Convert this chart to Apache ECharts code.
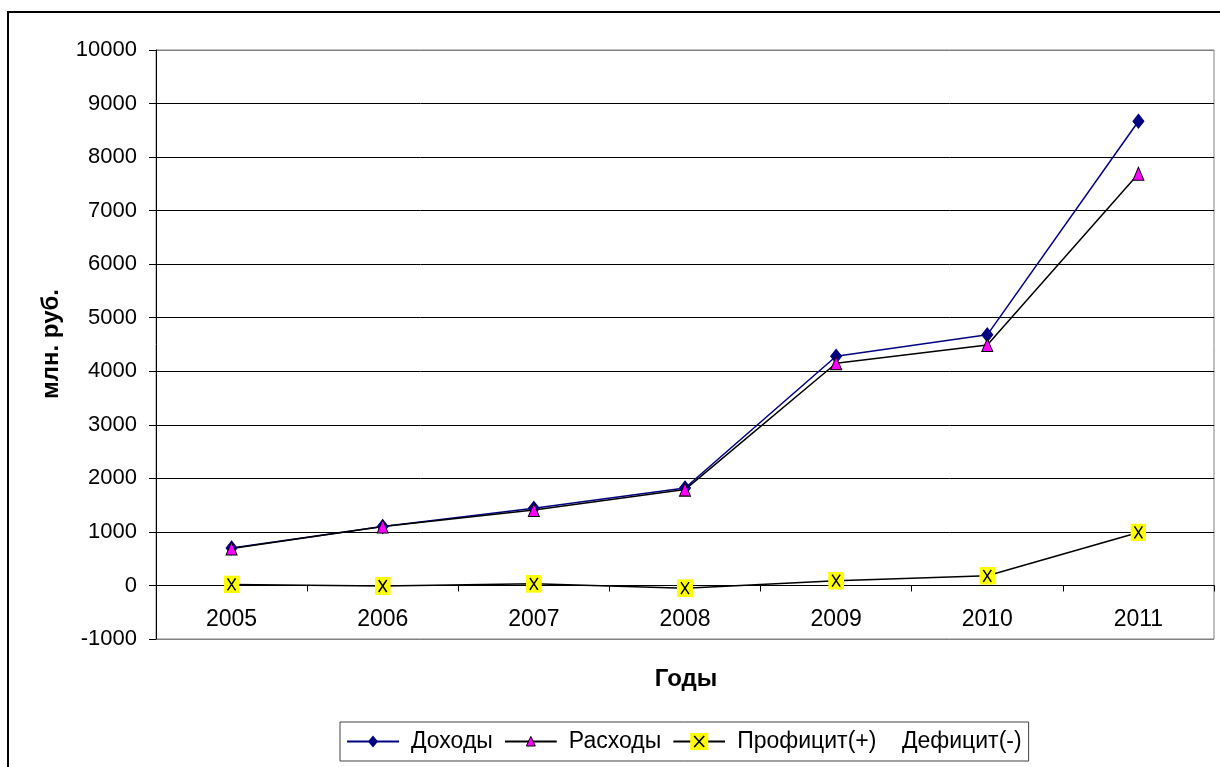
<!DOCTYPE html>
<html>
<head>
<meta charset="utf-8">
<script src="https://cdn.jsdelivr.net/npm/echarts@6/dist/echarts.min.js"></script>
<style>
html,body{margin:0;padding:0;background:#fff;}
#chart{width:1220px;height:767px;}
</style>
</head>
<body>
<div id="chart"></div>
<script>
const years = ['2005','2006','2007','2008','2009','2010','2011'];
const dohody = [700, 1100, 1440, 1820, 4280, 4680, 8670];
const rashody = [690, 1100, 1410, 1790, 4150, 4490, 7690];
const proficit = [20, -10, 30, -50, 90, 180, 990];
const seriesNames = ['Доходы', 'Расходы', 'Профицит(+)    Дефицит(-)'];
const yTitle = 'млн. руб.';
const xTitle = 'Годы';

const font = '"Liberation Sans", Arial, sans-serif';
function svgUrl(s) { return 'image://data:image/svg+xml;charset=utf-8,' + encodeURIComponent(s); }
const xSymbol = svgUrl('<svg xmlns="http://www.w3.org/2000/svg" width="16" height="18" viewBox="0 0 16 18">' +
  '<rect x="0" y="0" width="16" height="18" fill="#FFFF00"/>' +
  '<path d="M4,3 L12,15 M12,3 L4,15" stroke="#000" stroke-width="1.5" fill="none"/></svg>');
const legIcon1 = svgUrl('<svg xmlns="http://www.w3.org/2000/svg" width="52" height="20" viewBox="0 0 52 20">' +
  '<line x1="0" y1="10" x2="52" y2="10" stroke="#000080" stroke-width="2"/>' +
  '<polygon points="26,4 31,10 26,16 21,10" fill="#000080"/></svg>');
const legIcon2 = svgUrl('<svg xmlns="http://www.w3.org/2000/svg" width="52" height="20" viewBox="0 0 52 20">' +
  '<line x1="0" y1="10" x2="52" y2="10" stroke="#000" stroke-width="2"/>' +
  '<polygon points="26,5 30.5,14.5 21.5,14.5" fill="#FF00FF" stroke="#000" stroke-width="1"/></svg>');
const legIcon3 = svgUrl('<svg xmlns="http://www.w3.org/2000/svg" width="52" height="20" viewBox="0 0 52 20">' +
  '<line x1="0" y1="10" x2="52" y2="10" stroke="#000" stroke-width="2"/>' +
  '<rect x="17" y="1.5" width="18" height="17" fill="#FFFF00"/>' +
  '<path d="M21,4.5 L31,15.5 M31,4.5 L21,15.5" stroke="#000" stroke-width="1.6" fill="none"/></svg>');

const splitColors = [];
for (let i = 0; i <= 11; i++) splitColors.push((i === 0 || i === 11) ? '#808080' : '#000');

const chart = echarts.init(document.getElementById('chart'), null, {renderer: 'canvas'});
chart.setOption({
  animation: false,
  backgroundColor: '#fff',
  textStyle: {fontFamily: font},
  grid: {left: 156, right: 6, top: 50, bottom: 128, show: true, borderColor: '#808080', borderWidth: 1, backgroundColor: 'transparent'},
  xAxis: {
    type: 'category',
    data: years,
    boundaryGap: true,
    offset: -53.5,
    axisLine: {onZero: false, lineStyle: {color: '#000', width: 1}},
    axisTick: {show: true, length: 6, inside: false, lineStyle: {color: '#000'}},
    axisLabel: {fontSize: 23, color: '#000', margin: 23, fontFamily: font},
    splitLine: {show: false}
  },
  yAxis: {
    type: 'value',
    min: -1000, max: 10000, interval: 1000,
    axisLine: {show: true, lineStyle: {color: '#000', width: 1}},
    axisTick: {show: true, length: 7, lineStyle: {color: '#000'}},
    axisLabel: {fontSize: 22, color: '#000', margin: 19, fontFamily: font, formatter: v => String(v)},
    splitLine: {show: true, lineStyle: {color: splitColors, width: 1}}
  },
  legend: {
    left: 340, top: 722,
    orient: 'horizontal',
    borderColor: '#404040', borderWidth: 1,
    padding: [8, 7],
    itemWidth: 52, itemHeight: 20, itemGap: 12,
    textStyle: {fontSize: 23, color: '#000', fontFamily: font, padding: [0, 0, 0, 7]},
    data: [
      {name: seriesNames[0], icon: legIcon1},
      {name: seriesNames[1], icon: legIcon2},
      {name: seriesNames[2], icon: legIcon3}
    ]
  },
  series: [
    {
      name: seriesNames[0], type: 'line', data: dohody,
      symbol: 'diamond', symbolSize: [11, 14],
      lineStyle: {color: '#000080', width: 1.5},
      itemStyle: {color: '#000080', borderColor: '#000080'}
    },
    {
      name: seriesNames[1], type: 'line', data: rashody,
      symbol: 'triangle', symbolSize: [11, 13],
      lineStyle: {color: '#000', width: 1.5},
      itemStyle: {color: '#FF00FF', borderColor: '#000', borderWidth: 1}
    },
    {
      name: seriesNames[2], type: 'line', data: proficit,
      symbol: xSymbol, symbolSize: [16, 18],
      lineStyle: {color: '#000', width: 1.5},
      itemStyle: {color: '#000'}
    }
  ],
  graphic: [
    {type: 'rect', shape: {x: 8, y: 12, width: 1260, height: 820}, style: {fill: 'none', stroke: '#000', lineWidth: 2}, silent: true},
    {type: 'text', x: 51, y: 344, rotation: Math.PI / 2,
     style: {text: yTitle, font: 'bold 24px ' + font, fill: '#000', align: 'center', verticalAlign: 'middle', textAlign: 'center', textVerticalAlign: 'middle'}},
    {type: 'text', x: 686, y: 679,
     style: {text: xTitle, font: 'bold 24px ' + font, fill: '#000', align: 'center', verticalAlign: 'middle', textAlign: 'center', textVerticalAlign: 'middle'}}
  ]
});
</script>
</body>
</html>
